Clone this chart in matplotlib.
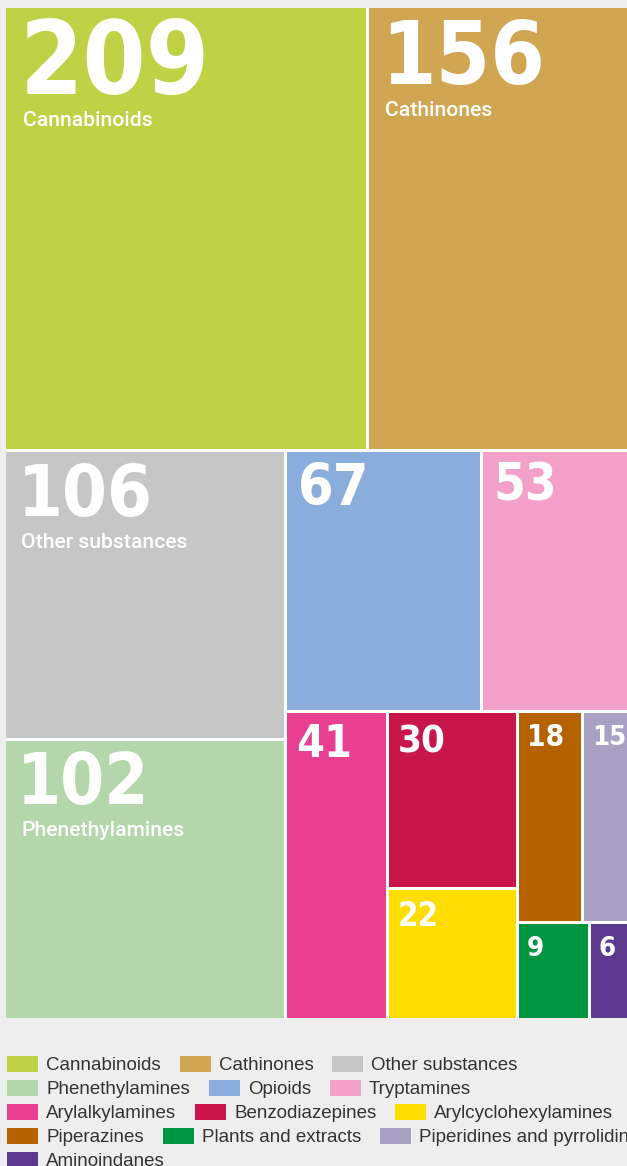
import numpy as np
import matplotlib
matplotlib.use('Agg')
from matplotlib import pyplot as plt
from matplotlib.patches import Rectangle

# substance groups, in legend order
names = ["Cannabinoids", "Cathinones", "Other substances", "Phenethylamines",
         "Opioids", "Tryptamines", "Arylalkylamines", "Benzodiazepines",
         "Arylcyclohexylamines", "Piperazines", "Plants and extracts",
         "Piperidines and pyrrolidines", "Aminoindanes"]
counts = [209, 156, 106, 102, 67, 53, 41, 30, 22, 18, 9, 15, 6]
colors = ["#bfd246", "#d1a652", "#c6c6c6", "#b4d6ab", "#8aaddb", "#f3a1c8",
          "#e8408e", "#c8154a", "#ffdd00", "#b56200", "#009540", "#a8a1c4",
          "#5b3a8e"]

# nesting of the tiles (indices into the lists above); split direction alternates by depth
groups = [[0, 1], [[2, 3], [[4, 5], [6, [7, 8], [[9, 11], [10, 12]]]]]]

BG = "#eeeeee"
FW, FH = 627, 1166
X0, Y0, W, H = 6, 8, 631, 1010
GAP = 3


def total(node):
    if isinstance(node, int):
        return counts[node]
    return sum(total(c) for c in node)


def layout(node, x, y, w, h, depth, out):
    if isinstance(node, int):
        out[node] = (x, y, w, h)
        return
    s = total(node)
    pos = 0.0
    for child in node:
        frac = total(child) / s
        if depth % 2 == 1:
            layout(child, x + pos * w, y, frac * w, h, depth + 1, out)
        else:
            layout(child, x, y + pos * h, w, frac * h, depth + 1, out)
        pos += frac


rects = {}
layout(groups, X0, Y0, W, H, 0, rects)

fig = plt.figure(figsize=(FW / 100, FH / 100), dpi=100)
fig.patch.set_facecolor(BG)
ax = fig.add_axes([0, 0, 1, 1])
ax.set_xlim(0, FW)
ax.set_ylim(FH, 0)
ax.axis('off')

ax.add_patch(Rectangle((X0, Y0), W, H, facecolor="white", edgecolor="none"))


def inset(x, y, w, h):
    eps = 0.5
    l = x if abs(x - X0) < eps else x + GAP / 2
    t = y if abs(y - Y0) < eps else y + GAP / 2
    r = x + w if abs(x + w - (X0 + W)) < eps else x + w - GAP / 2
    b = y + h if abs(y + h - (Y0 + H)) < eps else y + h - GAP / 2
    return l, t, r - l, b - t


for i, v in enumerate(counts):
    l, t, w, h = inset(*rects[i])
    ax.add_patch(Rectangle((l, t), w, h, facecolor=colors[i], edgecolor="none"))
    digit_h = max(20, 5.1 * np.sqrt(v))
    size_pt = digit_h / 0.729 * 0.72
    tx = l + 6 + 0.1 * digit_h
    base = t + 12 + digit_h
    ax.text(tx, base, str(v), color="white", fontsize=size_pt,
            fontfamily="DejaVu Sans", fontweight="bold", fontstretch="condensed",
            ha="left", va="baseline")
    if v > 100:
        ax.text(tx + 4, base + 32, names[i], color="white", fontsize=15.2,
                fontfamily="Roboto", fontweight="medium", ha="left", va="baseline")

# legend laid out as a flowing list of swatches
renderer = fig.canvas.get_renderer()
wrap_at = X0 + W + 20
lx, ly = X0 + 1, 1064
row_h = 24
sw_w, sw_h = 31, 16
for i, name in enumerate(names):
    t = ax.text(0, 0, name, fontsize=13.5, fontfamily="Liberation Sans",
                color="#333333", ha="left", va="center")
    tw = t.get_window_extent(renderer).width
    item_w = sw_w + 8 + tw
    if lx + item_w > wrap_at and lx > X0 + 1:
        lx = X0 + 1
        ly += row_h
    ax.add_patch(Rectangle((lx, ly - sw_h / 2), sw_w, sw_h,
                           facecolor=colors[i], edgecolor="none"))
    t.set_position((lx + sw_w + 8, ly + 1))
    lx += item_w + 19

fig.savefig("out.png", dpi=100, facecolor=BG)
